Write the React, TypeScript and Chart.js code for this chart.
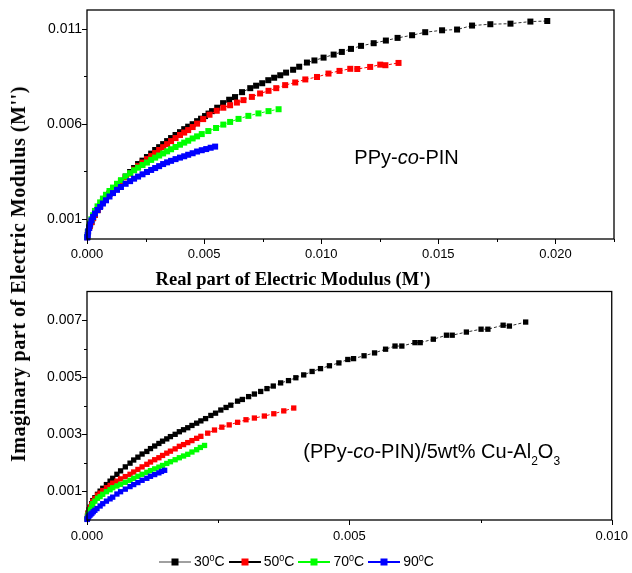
import React, { useEffect, useRef } from "react";
import { Chart, registerables } from "chart.js";

Chart.register(...registerables);

type Pt = [number, number];

// ---- PPy-co-PIN : M'' versus M' ----
const pin30C: Pt[] = [
  [0.00001, 0.00003], [0.00004, 0.00028], [0.00009, 0.00052], [0.00013, 0.00064], [0.00019, 0.00082],
  [0.00026, 0.00103], [0.00034, 0.00121], [0.00045, 0.00145], [0.00056, 0.00167], [0.00068, 0.00188],
  [0.00081, 0.00209], [0.00096, 0.00232], [0.00111, 0.00254], [0.00128, 0.00276], [0.00145, 0.00298],
  [0.00165, 0.00322], [0.00184, 0.00346], [0.00201, 0.00367], [0.00218, 0.00388], [0.00237, 0.00406],
  [0.00256, 0.00425], [0.00274, 0.00443], [0.00291, 0.00462], [0.00308, 0.00477], [0.00325, 0.00493],
  [0.00342, 0.00509], [0.00359, 0.00525], [0.00378, 0.00541], [0.00397, 0.00556], [0.00415, 0.00572],
  [0.00432, 0.00585], [0.00451, 0.00598], [0.0047, 0.00614], [0.00487, 0.00627], [0.00504, 0.00641],
  [0.00519, 0.00654], [0.00534, 0.00667], [0.00556, 0.00685], [0.00581, 0.00709], [0.00607, 0.00727],
  [0.00632, 0.00741], [0.00662, 0.00767], [0.00697, 0.00788], [0.00722, 0.00801], [0.00748, 0.00814],
  [0.00774, 0.0083], [0.00799, 0.00843], [0.00825, 0.00856], [0.0085, 0.0087], [0.0088, 0.00885],
  [0.00906, 0.00901], [0.00939, 0.00923], [0.00971, 0.00934], [0.0101, 0.00949], [0.01053, 0.00965],
  [0.01088, 0.00979], [0.01127, 0.00995], [0.0117, 0.01011], [0.01224, 0.01025], [0.01276, 0.01039],
  [0.01326, 0.01053], [0.01388, 0.01067], [0.01444, 0.01083], [0.01516, 0.01093], [0.0158, 0.01097],
  [0.01644, 0.01118], [0.01722, 0.01125], [0.01808, 0.01128], [0.01893, 0.01139], [0.01965, 0.01142],
];

const pin50C: Pt[] = [
  [0.00001, 0.00003], [0.00004, 0.00028], [0.00009, 0.00052], [0.00013, 0.00064], [0.00019, 0.00082],
  [0.00026, 0.00103], [0.00034, 0.00121], [0.00045, 0.00145], [0.00056, 0.00167], [0.00068, 0.00188],
  [0.00081, 0.00209], [0.00096, 0.00232], [0.00111, 0.00254], [0.00128, 0.00276], [0.00145, 0.00298],
  [0.00165, 0.00318], [0.00184, 0.00338], [0.00201, 0.00359], [0.00218, 0.00377], [0.00237, 0.00396],
  [0.00256, 0.00414], [0.00274, 0.0043], [0.00291, 0.00446], [0.00308, 0.00462], [0.00325, 0.00477],
  [0.00342, 0.00493], [0.00359, 0.00509], [0.00378, 0.00525], [0.00397, 0.00541], [0.00415, 0.00554],
  [0.00432, 0.00567], [0.00451, 0.00583], [0.0047, 0.00601], [0.00496, 0.00625], [0.00523, 0.00648],
  [0.00554, 0.00669], [0.00582, 0.00685], [0.00611, 0.00698], [0.0064, 0.00712], [0.00668, 0.00725],
  [0.00704, 0.00742], [0.00739, 0.0076], [0.00775, 0.00774], [0.00808, 0.00788], [0.00846, 0.00804],
  [0.00889, 0.00818], [0.00932, 0.00834], [0.00982, 0.00847], [0.01031, 0.00865], [0.01078, 0.00879],
  [0.01124, 0.0089], [0.01154, 0.00889], [0.01209, 0.009], [0.01252, 0.00912], [0.01274, 0.00909],
  [0.0133, 0.00921],
];

const pin70C: Pt[] = [
  [0.00001, 0.00004], [0.00004, 0.00032], [0.00009, 0.00058], [0.00013, 0.00075], [0.00019, 0.00097],
  [0.00026, 0.00118], [0.00034, 0.00141], [0.00045, 0.00165], [0.00056, 0.00186], [0.00068, 0.00206],
  [0.00081, 0.00226], [0.00096, 0.00246], [0.00111, 0.00264], [0.00128, 0.00284], [0.00145, 0.00303],
  [0.00165, 0.00323], [0.00184, 0.0034], [0.00201, 0.00355], [0.00218, 0.00369], [0.00237, 0.00383],
  [0.00256, 0.00396], [0.00274, 0.0041], [0.00291, 0.00422], [0.00308, 0.00433], [0.00325, 0.00444],
  [0.00342, 0.00455], [0.00359, 0.00466], [0.00378, 0.00478], [0.00397, 0.0049], [0.00415, 0.00501],
  [0.00432, 0.00511], [0.00451, 0.00523], [0.0047, 0.00534], [0.0049, 0.00546], [0.00518, 0.00562],
  [0.00551, 0.00578], [0.00582, 0.00596], [0.00611, 0.0061], [0.00647, 0.00626], [0.00689, 0.00642],
  [0.00732, 0.00655], [0.00775, 0.00667], [0.00818, 0.00677],
];

const pin90C: Pt[] = [
  [0.00001, 0.00001], [0.00003, 0.00014], [0.00005, 0.00033], [0.00009, 0.00051], [0.00013, 0.0007],
  [0.00019, 0.00091], [0.00026, 0.00109], [0.00034, 0.00127], [0.00045, 0.00146], [0.00056, 0.00162],
  [0.00068, 0.0018], [0.00081, 0.00197], [0.00096, 0.00217], [0.00111, 0.00235], [0.00128, 0.00252],
  [0.00145, 0.00267], [0.00165, 0.00284], [0.00184, 0.00298], [0.00201, 0.00311], [0.00218, 0.00322],
  [0.00237, 0.00334], [0.00256, 0.00346], [0.00274, 0.00357], [0.00291, 0.00367], [0.00308, 0.00377],
  [0.00325, 0.00388], [0.00342, 0.00397], [0.00359, 0.00405], [0.00378, 0.00414], [0.00397, 0.00422],
  [0.00415, 0.00429], [0.00432, 0.00437], [0.00451, 0.00445], [0.0047, 0.00454], [0.0049, 0.00461],
  [0.00509, 0.00467], [0.00528, 0.00474], [0.00547, 0.0048],
];

// ---- (PPy-co-PIN)/5wt% Cu-Al2O3 : M'' versus M' ----
const cu30C: Pt[] = [
  [0.000004, 0.00004], [0.00001, 0.00014], [0.00002, 0.00024], [0.00004, 0.00035], [0.00006, 0.00045],
  [0.00009, 0.00057], [0.00011, 0.00068], [0.00015, 0.00078], [0.0002, 0.0009], [0.00025, 0.00101],
  [0.0003, 0.00111], [0.00037, 0.00124], [0.00044, 0.00136], [0.00049, 0.00146], [0.00057, 0.0016],
  [0.00064, 0.00172], [0.00073, 0.00186], [0.00082, 0.00199], [0.00089, 0.0021], [0.00097, 0.0022],
  [0.00105, 0.00231], [0.00114, 0.0024], [0.00121, 0.0025], [0.00129, 0.00259], [0.00137, 0.00268],
  [0.00144, 0.00276], [0.00152, 0.00284], [0.00159, 0.00292], [0.00168, 0.003], [0.00176, 0.00309],
  [0.00184, 0.00316], [0.00192, 0.00323], [0.002, 0.00331], [0.00209, 0.00339], [0.00217, 0.00347],
  [0.00226, 0.00355], [0.00236, 0.00366], [0.00245, 0.00374], [0.00255, 0.00385], [0.00265, 0.00394],
  [0.00274, 0.00402], [0.00287, 0.00416], [0.00296, 0.00422], [0.00308, 0.00432], [0.00319, 0.00441],
  [0.00331, 0.0045], [0.00343, 0.0046], [0.00355, 0.00469], [0.00369, 0.0048], [0.00384, 0.00488],
  [0.00398, 0.00498], [0.00413, 0.00508], [0.00429, 0.0052], [0.00445, 0.0053], [0.00462, 0.0054],
  [0.0048, 0.0055], [0.00497, 0.00562], [0.00508, 0.00565], [0.00528, 0.00575], [0.00548, 0.00585],
  [0.00569, 0.00598], [0.00587, 0.00609], [0.006, 0.00609], [0.00625, 0.00621], [0.00635, 0.00621],
  [0.0066, 0.00633], [0.00685, 0.00647], [0.00696, 0.00647], [0.00723, 0.00658], [0.00751, 0.00668],
  [0.00764, 0.00668], [0.00793, 0.00682], [0.00805, 0.00679], [0.00836, 0.00693],
];

const cu50C: Pt[] = [
  [0.000004, 0.00004], [0.00001, 0.00014], [0.00002, 0.00024], [0.00004, 0.00035], [0.00006, 0.00044],
  [0.00009, 0.00054], [0.00011, 0.00065], [0.00015, 0.00075], [0.0002, 0.00087], [0.00025, 0.00094],
  [0.0003, 0.00103], [0.00037, 0.00113], [0.00044, 0.00121], [0.00049, 0.00129], [0.00057, 0.00136],
  [0.00064, 0.00144], [0.00073, 0.00152], [0.00082, 0.0016], [0.00089, 0.00168], [0.00097, 0.00177],
  [0.00105, 0.00186], [0.00114, 0.00195], [0.00121, 0.00203], [0.00129, 0.00211], [0.00137, 0.00218],
  [0.00144, 0.00226], [0.00152, 0.00234], [0.00159, 0.00241], [0.00168, 0.00249], [0.00176, 0.00258],
  [0.00184, 0.00264], [0.00192, 0.00271], [0.002, 0.00278], [0.00209, 0.00286], [0.00217, 0.00293],
  [0.0023, 0.00304], [0.00243, 0.00315], [0.00257, 0.00325], [0.00271, 0.00333], [0.00287, 0.00342],
  [0.00303, 0.00351], [0.00319, 0.00357], [0.00338, 0.00364], [0.00356, 0.00372], [0.00375, 0.00382],
  [0.00394, 0.00392],
];

const cu70C: Pt[] = [
  [0.000004, 0.00004], [0.00001, 0.0001], [0.00002, 0.00019], [0.00004, 0.00028], [0.00006, 0.00037],
  [0.00009, 0.00047], [0.00011, 0.00057], [0.00015, 0.00066], [0.0002, 0.00076], [0.00025, 0.00082],
  [0.0003, 0.0009], [0.00037, 0.00099], [0.00044, 0.00106], [0.00049, 0.00113], [0.00057, 0.00119],
  [0.00064, 0.00125], [0.00073, 0.00132], [0.00082, 0.00139], [0.00089, 0.00146], [0.00097, 0.00153],
  [0.00105, 0.0016], [0.00114, 0.00167], [0.00121, 0.00173], [0.00129, 0.00179], [0.00137, 0.00185],
  [0.00144, 0.00191], [0.00152, 0.00198], [0.00159, 0.00204], [0.00168, 0.00211], [0.00176, 0.00218],
  [0.00184, 0.00224], [0.00192, 0.0023], [0.002, 0.00238], [0.00209, 0.00246], [0.00216, 0.00254],
  [0.00224, 0.00261],
];

const cu90C: Pt[] = [
  [0.000002, 0.00002], [0.000008, 0.00004], [0.000015, 0.00007], [0.000025, 0.00011], [0.000038, 0.00014],
  [0.000057, 0.00017], [0.000076, 0.00021], [0.000095, 0.00024], [0.00012, 0.00029], [0.00015, 0.00034],
  [0.00019, 0.0004], [0.00025, 0.00049], [0.0003, 0.00057], [0.00037, 0.00066], [0.00044, 0.00074],
  [0.00049, 0.0008], [0.00057, 0.00091], [0.00064, 0.00099], [0.00073, 0.00108], [0.00082, 0.00117],
  [0.00089, 0.00124], [0.00097, 0.00131], [0.00105, 0.00139], [0.00114, 0.00146], [0.00121, 0.00153],
  [0.00129, 0.00159], [0.00137, 0.00165], [0.00142, 0.0017], [0.00148, 0.00174],
];

// temperatures (°C) and colours of the four runs
const TEMPERATURES = ["30", "50", "70", "90"];
const MARKER_COLORS = ["#000000", "#ff0000", "#00ff00", "#0000ff"];
const LINE_COLORS = ["#808080", "#000000", "#00ff00", "#0000ff"];

// axis ticks
const TOP_X_TICKS = [0, 0.005, 0.01, 0.015, 0.02];
const TOP_X_MINOR = [0.0025, 0.0075, 0.0125, 0.0175, 0.0225];
const TOP_Y_TICKS = [0.001, 0.006, 0.011];
const TOP_Y_MINOR = [0.0035, 0.0085];
const BOT_X_TICKS = [0, 0.005, 0.01];
const BOT_X_MINOR = [0.0025, 0.0075];
const BOT_Y_TICKS = [0.001, 0.003, 0.005, 0.007];
const BOT_Y_MINOR = [0.002, 0.004, 0.006];

const SANS = "'Liberation Sans', Arial, Helvetica, sans-serif";
const SERIF = "'Liberation Serif', 'Times New Roman', Times, serif";

// Draws the closed plot frame and outward major/minor tick marks.
const frameAndTicks = {
  id: "frameAndTicks",
  afterDraw(chart: any, _args: any, opts: any) {
    const { ctx, chartArea } = chart;
    const { left, right, top, bottom } = chartArea;
    const xs = chart.scales.x;
    const ys = chart.scales.y;
    ctx.save();
    ctx.strokeStyle = "#000";
    ctx.lineWidth = 1.3;
    ctx.strokeRect(left, top, right - left, bottom - top);
    ctx.lineWidth = 1;
    ctx.beginPath();
    const tx = (v: number, len: number) => {
      const p = Math.round(xs.getPixelForValue(v)) + 0.5;
      ctx.moveTo(p, bottom);
      ctx.lineTo(p, bottom + len);
    };
    const ty = (v: number, len: number) => {
      const p = Math.round(ys.getPixelForValue(v)) + 0.5;
      ctx.moveTo(left, p);
      ctx.lineTo(left - len, p);
    };
    opts.xMajor.forEach((v: number) => tx(v, 5));
    opts.xMinor.forEach((v: number) => tx(v, 3));
    opts.yMajor.forEach((v: number) => ty(v, 5));
    opts.yMinor.forEach((v: number) => ty(v, 3));
    ctx.stroke();
    ctx.restore();
  },
};

type PlotProps = {
  series: Pt[][];
  xMax: number;
  yMin: number;
  yMax: number;
  xTicks: number[];
  xMinor: number[];
  yTicks: number[];
  yMinor: number[];
  top: number;
  height: number;
  padTop: number;
  xAxisHeight: number;
  xLabelPad: number;
  radius: number;
};

function Plot(p: PlotProps) {
  const ref = useRef<HTMLCanvasElement>(null);
  useEffect(() => {
    const datasets = p.series.map((pts, i) => ({
      label: TEMPERATURES[i],
      data: pts.map(([x, y]) => ({ x, y })),
      showLine: true,
      borderColor: i === 0 ? "#333333" : MARKER_COLORS[i],
      borderWidth: 1,
      borderDash: [3, 2],
      pointStyle: "rect" as const,
      pointRadius: p.radius,
      pointBackgroundColor: MARKER_COLORS[i],
      pointBorderWidth: 0,
      order: p.series.length - 1 - i,
      clip: false as const,
    }));
    const chart = new Chart(ref.current!, {
      type: "scatter",
      data: { datasets },
      options: {
        animation: false,
        responsive: false,
        maintainAspectRatio: false,
        devicePixelRatio: 1,
        events: [],
        layout: { padding: { left: 0, right: 18, top: p.padTop, bottom: 0 } },
        plugins: {
          legend: { display: false },
          tooltip: { enabled: false },
          frameAndTicks: { xMajor: p.xTicks, xMinor: p.xMinor, yMajor: p.yTicks, yMinor: p.yMinor },
        } as any,
        scales: {
          x: {
            type: "linear",
            min: 0,
            max: p.xMax,
            afterBuildTicks: (s: any) => {
              s.ticks = p.xTicks.map((v) => ({ value: v }));
            },
            afterFit: (s: any) => {
              s.height = p.xAxisHeight;
            },
            ticks: {
              callback: (v: any) => Number(v).toFixed(3),
              font: { family: SANS, size: 13 },
              color: "#000",
              padding: p.xLabelPad,
              maxRotation: 0,
              autoSkip: false,
            },
            grid: { drawOnChartArea: false, tickLength: 5, color: "rgba(0,0,0,0)" },
            border: { display: false },
          },
          y: {
            type: "linear",
            min: p.yMin,
            max: p.yMax,
            afterBuildTicks: (s: any) => {
              s.ticks = p.yTicks.map((v) => ({ value: v }));
            },
            afterFit: (s: any) => {
              s.width = 87;
            },
            ticks: {
              callback: (v: any) => Number(v).toFixed(3),
              font: { family: SANS, size: 14 },
              color: "#000",
              padding: 0,
              autoSkip: false,
            },
            grid: { drawOnChartArea: false, tickLength: 5, color: "rgba(0,0,0,0)" },
            border: { display: false },
          },
        },
      },
      plugins: [frameAndTicks],
    });
    return () => chart.destroy();
  }, []);
  return (
    <canvas
      ref={ref}
      width={632}
      height={p.height}
      style={{ position: "absolute", left: 0, top: p.top, width: 632, height: p.height }}
    />
  );
}

function LegendItem({ i }: { i: number }) {
  return (
    <div style={{ display: "flex", alignItems: "center", marginRight: 4 }}>
      <svg width={32} height={12} style={{ display: "block" }}>
        <line x1={0} y1={6} x2={32} y2={6} stroke={LINE_COLORS[i]} strokeWidth={i === 0 ? 1.5 : 2} />
        <rect x={12.5} y={2.5} width={7} height={7} fill={MARKER_COLORS[i]} />
      </svg>
      <span style={{ marginLeft: 3, fontFamily: SANS, fontSize: 14, lineHeight: "16px", color: "#000" }}>
        {TEMPERATURES[i]}
        <span style={{ fontSize: 9, position: "relative", top: -5 }}>0</span>C
      </span>
    </div>
  );
}

export default function App() {
  return (
    <div style={{ position: "absolute", left: 0, top: 0, width: 632, height: 573, background: "#fff", overflow: "hidden" }}>
      <Plot
        series={[pin30C, pin50C, pin70C, pin90C]}
        xMax={0.0225}
        yMin={-0.00007}
        yMax={0.012}
        xTicks={TOP_X_TICKS}
        xMinor={TOP_X_MINOR}
        yTicks={TOP_Y_TICKS}
        yMinor={TOP_Y_MINOR}
        top={0}
        height={275}
        padTop={10}
        xAxisHeight={36}
        xLabelPad={3}
        radius={4.25}
      />
      <Plot
        series={[cu30C, cu50C, cu70C, cu90C]}
        xMax={0.01}
        yMin={0}
        yMax={0.008}
        xTicks={BOT_X_TICKS}
        xMinor={BOT_X_MINOR}
        yTicks={BOT_Y_TICKS}
        yMinor={BOT_Y_MINOR}
        top={280}
        height={293}
        padTop={11.5}
        xAxisHeight={53}
        xLabelPad={4}
        radius={3.75}
      />

      {/* axis titles */}
      <div
        style={{
          position: "absolute",
          left: 293,
          top: 270,
          transform: "translateX(-50%)",
          whiteSpace: "nowrap",
          fontFamily: SERIF,
          fontWeight: "bold",
          fontSize: 18.5,
          lineHeight: 1,
          color: "#000",
        }}
      >
        Real part of Electric Modulus (M')
      </div>
      <div
        style={{
          position: "absolute",
          left: 18.3,
          top: 273.5,
          transform: "translate(-50%, -50%) rotate(-90deg)",
          whiteSpace: "nowrap",
          fontFamily: SERIF,
          fontWeight: "bold",
          fontSize: 20,
          letterSpacing: 0.55,
          lineHeight: 1,
          color: "#000",
        }}
      >
        Imaginary part of Electric Modulus (M'')
      </div>

      {/* sample annotations */}
      <div style={{ position: "absolute", left: 354.3, top: 147.4, whiteSpace: "nowrap", fontFamily: SANS, fontSize: 20, lineHeight: 1, color: "#000" }}>
        PPy-<i>co</i>-PIN
      </div>
      <div style={{ position: "absolute", left: 303.3, top: 441.4, whiteSpace: "nowrap", fontFamily: SANS, fontSize: 20, lineHeight: 1, color: "#000" }}>
        (PPy-<i>co</i>-PIN)/5wt% Cu-Al
        <span style={{ fontSize: 12, position: "relative", top: 7 }}>2</span>O
        <span style={{ fontSize: 12, position: "relative", top: 7 }}>3</span>
      </div>

      {/* legend */}
      <div style={{ position: "absolute", left: 159, top: 553.7, height: 16, display: "flex", alignItems: "center" }}>
        {TEMPERATURES.map((_, i) => (
          <LegendItem key={i} i={i} />
        ))}
      </div>
    </div>
  );
}
